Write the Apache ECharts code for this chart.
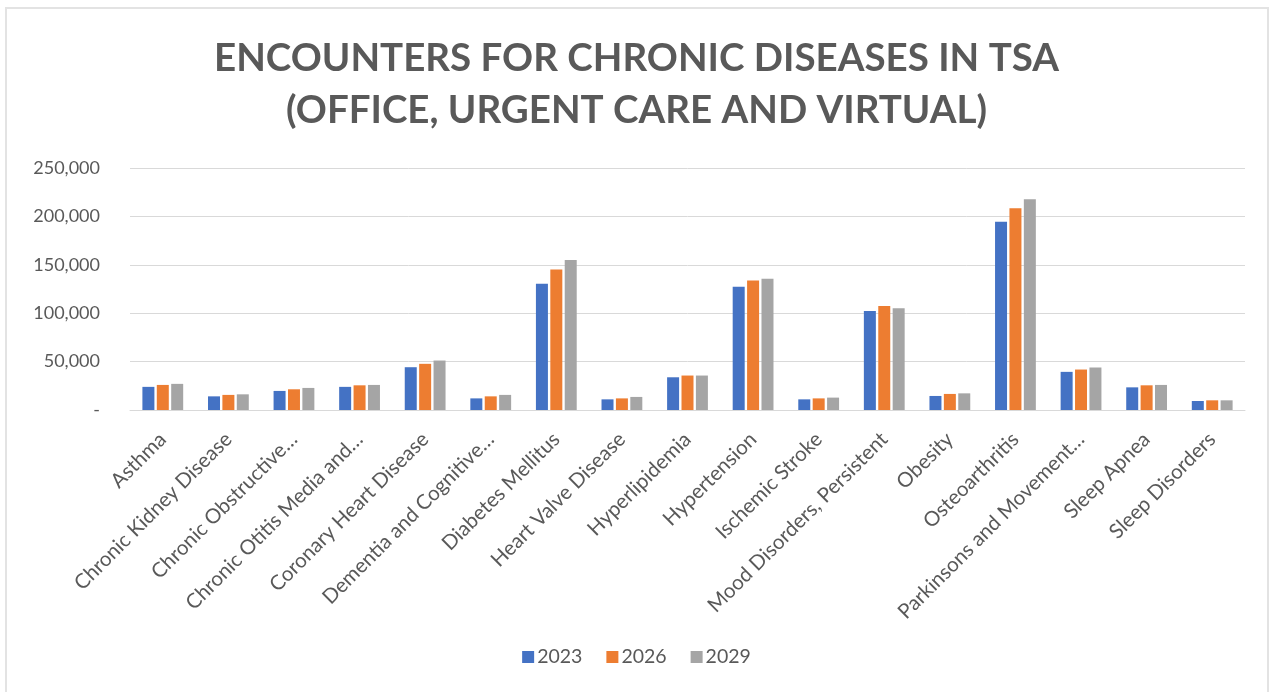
<!DOCTYPE html>
<html>
<head>
<meta charset="utf-8">
<script src="https://cdn.jsdelivr.net/npm/echarts@6/dist/echarts.min.js"></script>
<style>
  html, body { margin: 0; padding: 0; background: #fff; }
  #frame { position: absolute; left: 5px; top: 7px; width: 1264px; height: 700px; border: 2px solid #e3e3e3; box-sizing: border-box; }
  #chart { position: absolute; left: 0; top: 0; width: 1273px; height: 692px; }
</style>
</head>
<body>
<div id="frame"></div>
<div id="chart"></div>
<script>
const categories = [
  'Asthma', 'Chronic Kidney Disease', 'Chronic Obstructive…', 'Chronic Otitis Media and…',
  'Coronary Heart Disease', 'Dementia and Cognitive…', 'Diabetes Mellitus', 'Heart Valve Disease',
  'Hyperlipidemia', 'Hypertension', 'Ischemic Stroke', 'Mood Disorders, Persistent',
  'Obesity', 'Osteoarthritis', 'Parkinsons and Movement…', 'Sleep Apnea', 'Sleep Disorders'
];
const seriesNames = ['2023', '2026', '2029'];
const values2023 = [23900, 14100, 19700, 23900, 44200, 12000, 130300, 11000, 33800, 127200, 11000, 102300, 14500, 194600, 39400, 23400, 9300];
const values2026 = [25900, 15600, 21400, 25500, 47700, 14100, 145200, 12000, 35600, 133800, 12000, 107500, 16600, 208500, 41800, 25500, 10000];
const values2029 = [27000, 16200, 22800, 25900, 51100, 15600, 154900, 13500, 35600, 135500, 12800, 105100, 17200, 217800, 43900, 25900, 10000];
const yTicks = [0, 50000, 100000, 150000, 200000, 250000];
const colors = ['#4472C4', '#ED7D31', '#A5A5A5'];
const titleText = 'ENCOUNTERS FOR CHRONIC DISEASES IN TSA\n(OFFICE, URGENT CARE AND VIRTUAL)';

const font = 'Lato, "Open Sans", sans-serif';
const txt = '#595959';
const chart = echarts.init(document.getElementById('chart'), null, { renderer: 'canvas' });
const allValues = [values2023, values2026, values2029];
chart.setOption({
  animation: false,
  color: colors,
  title: {
    text: titleText,
    left: 'center',
    top: 28,
    textStyle: { fontFamily: font, fontSize: 38.5, fontWeight: 'bold', color: txt, lineHeight: 52 }
  },
  legend: {
    data: seriesNames,
    bottom: 20,
    left: 'center',
    icon: 'rect',
    itemWidth: 12,
    itemHeight: 12,
    itemGap: 24,
    textStyle: { fontFamily: font, fontSize: 19.5, color: txt, padding: [0, 0, 0, -2] }
  },
  grid: { left: 130, right: 28, top: 168, bottom: 282, containLabel: false },
  xAxis: {
    type: 'category',
    data: categories,
    axisLine: { lineStyle: { color: '#d9d9d9', width: 1 } },
    axisTick: { show: false },
    axisLabel: { rotate: 45, fontFamily: font, fontSize: 20.5, color: txt, margin: 26, interval: 0 }
  },
  yAxis: {
    type: 'value',
    min: yTicks[0],
    max: yTicks[yTicks.length - 1],
    interval: yTicks[1] - yTicks[0],
    axisLine: { show: false },
    axisTick: { show: false },
    splitLine: { lineStyle: { color: '#d9d9d9', width: 1 } },
    axisLabel: {
      fontFamily: font, fontSize: 18, color: txt, margin: 30,
      formatter: v => v === 0 ? '-' : v.toLocaleString('en-US')
    }
  },
  series: seriesNames.map((name, i) => ({
    name: name,
    type: 'bar',
    data: allValues[i],
    barWidth: 12,
    barGap: '20%',
    itemStyle: { color: colors[i] }
  }))
});
</script>
</body>
</html>
